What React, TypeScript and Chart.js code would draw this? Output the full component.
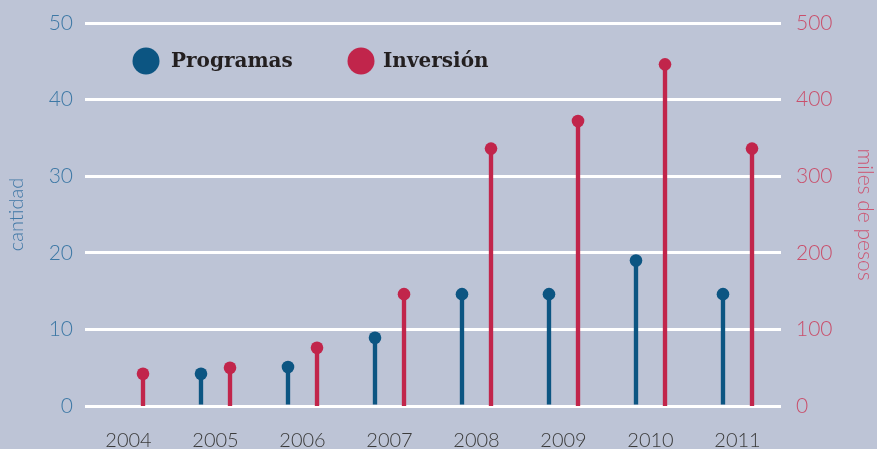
import React, { useEffect, useRef } from "react";
import { Chart, registerables } from "chart.js";

Chart.register(...registerables);

const years = ["2004", "2005", "2006", "2007", "2008", "2009", "2010", "2011"];
const programas: (number | null)[] = [null, 4.2, 5.1, 8.9, 14.6, 14.6, 19, 14.6];
const inversion: number[] = [42, 50, 76, 146, 336, 372, 446, 336];
const seriesNames = ["Programas", "Inversión"];
const leftAxisTitle = "cantidad";
const rightAxisTitle = "miles de pesos";

const BG = "#bdc4d6";
const BLUE = "#0c5582";
const RED = "#c1254b";

const lollipopPlugin = {
  id: "lollipop",
  beforeDraw(chart: any) {
    const { ctx, width, height } = chart;
    ctx.save();
    ctx.fillStyle = BG;
    ctx.fillRect(0, 0, width, height);
    ctx.restore();
  },
  afterDatasetsDraw(chart: any) {
    const { ctx, chartArea } = chart;
    ctx.save();
    chart.data.datasets.forEach((ds: any, i: number) => {
      const meta = chart.getDatasetMeta(i);
      meta.data.forEach((el: any, j: number) => {
        const v = ds.data[j];
        if (v === null || v === undefined) return;
        ctx.beginPath();
        ctx.fillStyle = ds.backgroundColor;
        ctx.arc(el.x, el.y, 6.3, 0, Math.PI * 2);
        ctx.fill();
      });
    });
    // legend
    const legendY = chartArea.top + 38;
    const positions = [
      { cx: chartArea.left + 61, tx: chartArea.left + 86 },
      { cx: chartArea.left + 276, tx: chartArea.left + 298 },
    ];
    ctx.font = "bold 20px 'DejaVu Serif'";
    ctx.textBaseline = "middle";
    ctx.textAlign = "left";
    chart.data.datasets.forEach((ds: any, i: number) => {
      const p = positions[i];
      ctx.beginPath();
      ctx.fillStyle = ds.backgroundColor;
      ctx.arc(p.cx, legendY, 13.5, 0, Math.PI * 2);
      ctx.fill();
      ctx.fillStyle = "#231f20";
      ctx.fillText(ds.label, p.tx, legendY + 1);
    });
    ctx.restore();
  },
};

export default function App() {
  const ref = useRef<HTMLCanvasElement | null>(null);
  useEffect(() => {
    if (!ref.current) return;
    const chart = new Chart(ref.current, {
      type: "bar",
      data: {
        labels: years,
        datasets: [
          {
            label: seriesNames[0],
            data: programas,
            backgroundColor: BLUE,
            yAxisID: "y",
            categoryPercentage: 0.667,
            barPercentage: 0.15,
          },
          {
            label: seriesNames[1],
            data: inversion,
            backgroundColor: RED,
            yAxisID: "y1",
            categoryPercentage: 0.667,
            barPercentage: 0.15,
          },
        ],
      },
      options: {
        animation: false,
        responsive: false,
        maintainAspectRatio: false,
        layout: { padding: { top: 23, left: 0, right: 0, bottom: 0 } },
        plugins: { legend: { display: false }, tooltip: { enabled: false } },
        scales: {
          x: {
            grid: { display: false, drawTicks: false },
            border: { display: false },
            ticks: {
              color: "#3b3b3b",
              font: { family: "Lato", size: 20, weight: "300" },
              padding: 23,
            },
            afterFit: (s: any) => {
              s.height = 43;
              s.paddingLeft = 0;
              s.paddingRight = 0;
            },
          },
          y: {
            position: "left",
            min: 0,
            max: 50,
            ticks: {
              stepSize: 10,
              color: "#3d78a5",
              font: { family: "Lato", size: 21, weight: "300" },
              padding: 12,
            },
            grid: { color: "#ffffff", lineWidth: 3, drawTicks: false },
            border: { display: false },
            title: {
              display: true,
              text: leftAxisTitle,
              color: "#4178a6",
              font: { family: "Lato", size: 20, weight: "300" },
              padding: { top: 5, bottom: 0 },
            },
            afterFit: (s: any) => {
              s.width = 85;
              s.paddingTop = 0;
              s.paddingBottom = 0;
            },
          },
          y1: {
            position: "right",
            min: 0,
            max: 500,
            ticks: {
              stepSize: 100,
              color: "#c94f6b",
              font: { family: "Lato", size: 21, weight: "300" },
              padding: 15,
            },
            grid: { display: false, drawTicks: false },
            border: { display: false },
            title: {
              display: true,
              text: rightAxisTitle,
              color: "#cc5773",
              font: { family: "Lato", size: 21, weight: "300" },
              padding: { top: 0, bottom: 0 },
            },
            afterFit: (s: any) => {
              s.width = 96;
              s.paddingTop = 0;
              s.paddingBottom = 0;
            },
          },
        },
      },
      plugins: [lollipopPlugin],
    } as any);
    return () => chart.destroy();
  }, []);
  return (
    <div style={{ position: "fixed", left: 0, top: 0, width: 877, height: 449, background: BG }}>
      <canvas ref={ref} width={877} height={449} style={{ display: "block" }} />
    </div>
  );
}
